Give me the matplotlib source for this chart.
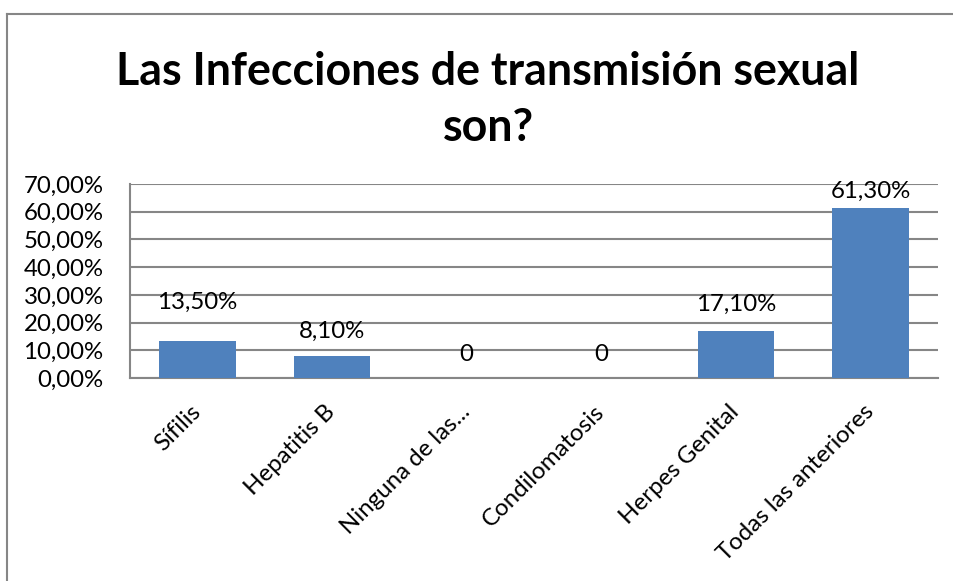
import matplotlib.pyplot as plt
from matplotlib.lines import Line2D

plt.rcParams["font.family"] = ["Lato", "DejaVu Sans"]

categories = ["Sífilis", "Hepatitis B", "Ninguna de las...", "Condilomatosis",
              "Herpes Genital", "Todas las anteriores"]
values = [13.5, 8.1, 0, 0, 17.1, 61.3]
value_labels = ["13,50%", "8,10%", "0", "0", "17,10%", "61,30%"]
# labels were nudged by hand in the original, gap above the bar in points
label_gaps = [20, 10, 9.5, 9.5, 11.5, 4.3]
yticks = [0, 10, 20, 30, 40, 50, 60, 70]
ytick_labels = ["0,00%", "10,00%", "20,00%", "30,00%", "40,00%", "50,00%", "60,00%", "70,00%"]

W, H = 954, 581
fig = plt.figure(figsize=(W / 100, H / 100), dpi=100)
ax = fig.add_axes([130 / W, 1 - 378 / H, (938 - 130) / W, (378 - 184) / H])

x = range(len(categories))
bars = ax.bar(x, values, width=0.57, color="#4F81BD", zorder=3)

ax.set_xlim(-0.5, len(categories) - 0.5)
ax.set_ylim(0, 70)
ax.set_yticks(yticks)
ax.set_yticklabels(ytick_labels, fontsize=17.3)
ax.yaxis.grid(True, color="#868686", linewidth=1.5, zorder=0)

ax.set_xticks(list(x))
ax.set_xticklabels(categories, rotation=45, ha="right", va="center",
                   rotation_mode="anchor", fontsize=17.3)
ax.tick_params(axis="x", length=0, pad=22)
ax.tick_params(axis="y", length=0, pad=19)

for s in ["top", "right"]:
    ax.spines[s].set_visible(False)
for s in ["left", "bottom"]:
    ax.spines[s].set_color("#868686")
    ax.spines[s].set_linewidth(1.5)

for rect, lab, gap in zip(bars, value_labels, label_gaps):
    ax.annotate(lab, (rect.get_x() + rect.get_width() / 2, rect.get_height()),
                xytext=(0, gap), textcoords="offset points",
                ha="center", va="bottom", fontsize=17.3)

fig.text(488 / W, 1 - 72 / H, "Las Infecciones de transmisión sexual",
         ha="center", va="center", fontsize=32.2, fontweight="bold")
fig.text(488 / W, 1 - 128 / H, "son?",
         ha="center", va="center", fontsize=32.2, fontweight="bold")

# chart area border (left and top only visible in the crop)
fig.add_artist(Line2D([7.5 / W, 7.5 / W], [0, 1 - 13.5 / H], color="#868686",
                      linewidth=1.5, transform=fig.transFigure))
fig.add_artist(Line2D([7.5 / W, 1], [1 - 13.5 / H, 1 - 13.5 / H], color="#868686",
                      linewidth=1.5, transform=fig.transFigure))

fig.savefig("out.png", dpi=100)
